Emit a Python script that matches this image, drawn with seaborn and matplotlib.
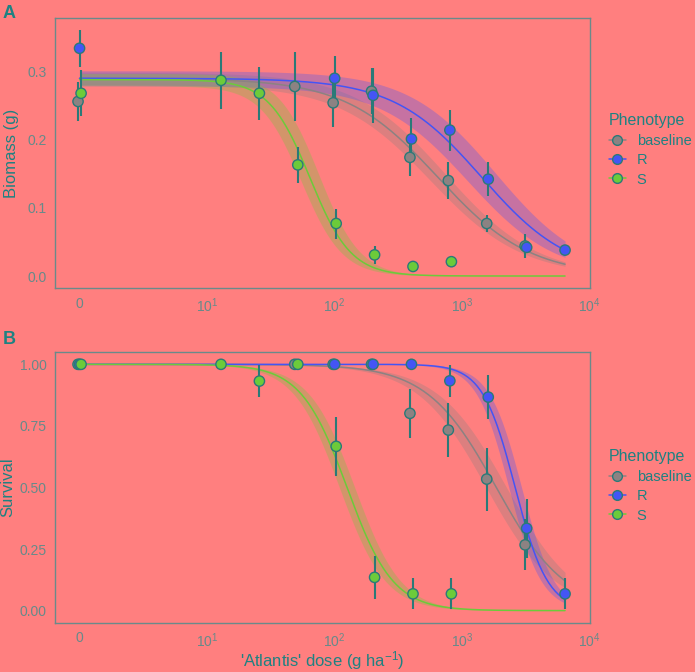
import numpy as np
import pandas as pd
import seaborn as sns
import matplotlib.pyplot as plt
from matplotlib.lines import Line2D

# colours
bg = '#FF7F7F'
teal = '#1E8282'
tick_col = '#678A8A'
pal = {'baseline': '#8C8282', 'R': '#4455F5', 'S': '#6CCB3A'}
phenos = ['baseline', 'R', 'S']

# ---- panel A : biomass (g) ----
bio_dose_base = [0, 50, 100, 200, 400, 800, 1600, 3200]
bio_mean_base = [0.256, 0.278, 0.254, 0.271, 0.174, 0.140, 0.077, 0.044]
bio_err_base = [0.028, 0.050, 0.035, 0.034, 0.027, 0.027, 0.013, 0.017]

bio_dose_R = [0, 100, 200, 400, 800, 1600, 3200, 6400]
bio_mean_R = [0.334, 0.290, 0.265, 0.201, 0.214, 0.142, 0.042, 0.038]
bio_err_R = [0.027, 0.033, 0.040, 0.031, 0.030, 0.025, 0.006, 0.0]

bio_dose_S = [0, 12.5, 25, 50, 100, 200, 400, 800]
bio_mean_S = [0.268, 0.287, 0.268, 0.163, 0.077, 0.031, 0.014, 0.021]
bio_err_S = [0.034, 0.042, 0.039, 0.026, 0.022, 0.013, 0.0, 0.0]

# log-logistic fits (slope b, upper d, ED50 e) and band widths
bio_fit = {'baseline': (1.2, 0.290, 643), 'R': (1.26, 0.290, 1420), 'S': (2.7, 0.288, 64)}
bio_band = {'baseline': (0.009, 0.06), 'R': (0.011, 0.11), 'S': (0.009, 0.07)}

# ---- panel B : survival ----
sur_dose_base = [0, 50, 100, 200, 400, 800, 1600, 3200]
sur_mean_base = [1.0, 1.0, 1.0, 1.0, 0.801, 0.733, 0.534, 0.267]
sur_err_base = [0.0, 0.0, 0.0, 0.0, 0.100, 0.110, 0.128, 0.103]

sur_dose_R = [0, 100, 200, 400, 800, 1600, 3200, 6400]
sur_mean_R = [1.0, 1.0, 1.0, 1.0, 0.933, 0.867, 0.334, 0.068]
sur_err_R = [0.0, 0.0, 0.0, 0.0, 0.066, 0.088, 0.120, 0.063]

sur_dose_S = [0, 12.5, 25, 50, 100, 200, 400, 800]
sur_mean_S = [1.0, 1.0, 0.932, 1.0, 0.667, 0.135, 0.068, 0.068]
sur_err_S = [0.0, 0.0, 0.066, 0.0, 0.120, 0.087, 0.063, 0.063]

sur_fit = {'baseline': (1.6, 1.0, 1850), 'R': (3.4, 1.0, 2600), 'S': (2.4, 1.0, 125)}
sur_band = {'baseline': (0.0, 0.08), 'R': (0.0, 0.05), 'S': (0.0, 0.06)}

dodge = {'baseline': -0.012, 'R': 0.0, 'S': 0.012}


def ll(x, b, d, e):
    return d / (1 + np.exp(b * (np.log(x) - np.log(e))))


def to_df(doses, means, errs):
    rows = []
    for p, ds, ms, es in zip(phenos, doses, means, errs):
        for dv, m, er in zip(ds, ms, es):
            lx = 0.0 if dv == 0 else np.log10(dv)
            rows.append((p, lx + dodge[p], m, er))
    return pd.DataFrame(rows, columns=['Phenotype', 'x', 'y', 'err'])


def draw(ax, df, fit, band, ycenter):
    lx = np.linspace(0, np.log10(6400), 300)
    dose = 10 ** lx
    curves = []
    for p in phenos:
        b, d, e = fit[p]
        dd, w = band[p]
        lo = ll(dose, b, d - dd, e * 10 ** (-w))
        hi = ll(dose, b, d + dd, e * 10 ** w)
        ax.fill_between(lx, lo, hi, color=pal[p], alpha=0.3, lw=0, zorder=1)
        curves.append(pd.DataFrame({'x': lx, 'y': ll(dose, b, d, e), 'Phenotype': p}))
    cdf = pd.concat(curves)
    sns.lineplot(data=cdf, x='x', y='y', hue='Phenotype', palette=pal,
                 lw=1.1, ax=ax, legend=False, zorder=2)
    ax.vlines(df['x'], df['y'] - df['err'], df['y'] + df['err'],
              color='#2A7A78', lw=1.5, zorder=3)
    sns.scatterplot(data=df, x='x', y='y', hue='Phenotype', palette=pal,
                    s=55, edgecolor='#2A7A78', linewidth=1.0, ax=ax,
                    legend=False, zorder=4)
    ax.set_xlim(-0.19, 4.0)
    ax.set_xticks([0, 1, 2, 3, 4])
    ax.set_xticklabels(['0', '$10^{1}$', '$10^{2}$', '$10^{3}$', '$10^{4}$'])
    ax.set_facecolor(bg)
    for s in ax.spines.values():
        s.set_color('#6A8A8A')
        s.set_linewidth(1.0)
    ax.tick_params(colors=tick_col, labelsize=10, length=4, width=1.0, pad=2)
    ax.tick_params(axis='both', color='#2E7A7A')
    handles = [Line2D([0], [0], color=pal[p], marker='o', markersize=7,
                      markerfacecolor=pal[p], markeredgecolor='#2A7A78', lw=1.1)
               for p in phenos]
    leg = fig.legend(handles, phenos, title='Phenotype', loc='center left',
                     bbox_to_anchor=(609 / 695, ycenter), frameon=False,
                     fontsize=10.5, title_fontsize=11.5, handlelength=1.15,
                     labelspacing=0.37, handletextpad=0.75, borderpad=0,
                     borderaxespad=0)
    leg._legend_box.align = 'left'
    leg.get_title().set_color(teal)
    for t in leg.get_texts():
        t.set_color(teal)


sns.set_style('white')
plt.rcParams['font.family'] = ['Liberation Sans', 'DejaVu Sans']
plt.rcParams['mathtext.default'] = 'regular'

fig = plt.figure(figsize=(6.95, 6.72), dpi=100, facecolor=bg)
axA = fig.add_axes([0.0796, 0.571, 0.769, 0.4018])
axB = fig.add_axes([0.0796, 0.0734, 0.769, 0.4024])

dfA = to_df([bio_dose_base, bio_dose_R, bio_dose_S],
            [bio_mean_base, bio_mean_R, bio_mean_S],
            [bio_err_base, bio_err_R, bio_err_S])
draw(axA, dfA, bio_fit, bio_band, 1 - 150 / 672)
axA.set_ylim(-0.018, 0.378)
axA.set_yticks([0.0, 0.1, 0.2, 0.3])
axA.set_yticklabels(['0.0', '0.1', '0.2', '0.3'])
axA.set_xlabel('')
axA.set_ylabel('Biomass (g)', color=teal, fontsize=12, labelpad=6)

dfB = to_df([sur_dose_base, sur_dose_R, sur_dose_S],
            [sur_mean_base, sur_mean_R, sur_mean_S],
            [sur_err_base, sur_err_R, sur_err_S])
draw(axB, dfB, sur_fit, sur_band, 1 - 486 / 672)
axB.set_ylim(-0.049, 1.049)
axB.set_yticks([0, 0.25, 0.5, 0.75, 1.0])
axB.set_yticklabels(['0.00', '0.25', '0.50', '0.75', '1.00'])
axB.set_xlabel("'Atlantis' dose (g ha$^{-1}$)", color=teal, fontsize=12)
axB.xaxis.set_label_coords(0.5, -0.098)
axB.set_ylabel('Survival', color=teal, fontsize=12, labelpad=3)

fig.text(0.004, 0.992, 'A', color=teal, fontsize=13, fontweight='bold', va='top')
fig.text(0.004, 1 - 331 / 672, 'B', color=teal, fontsize=13, fontweight='bold', va='top')

fig.savefig('out.png', dpi=100, facecolor=bg)
